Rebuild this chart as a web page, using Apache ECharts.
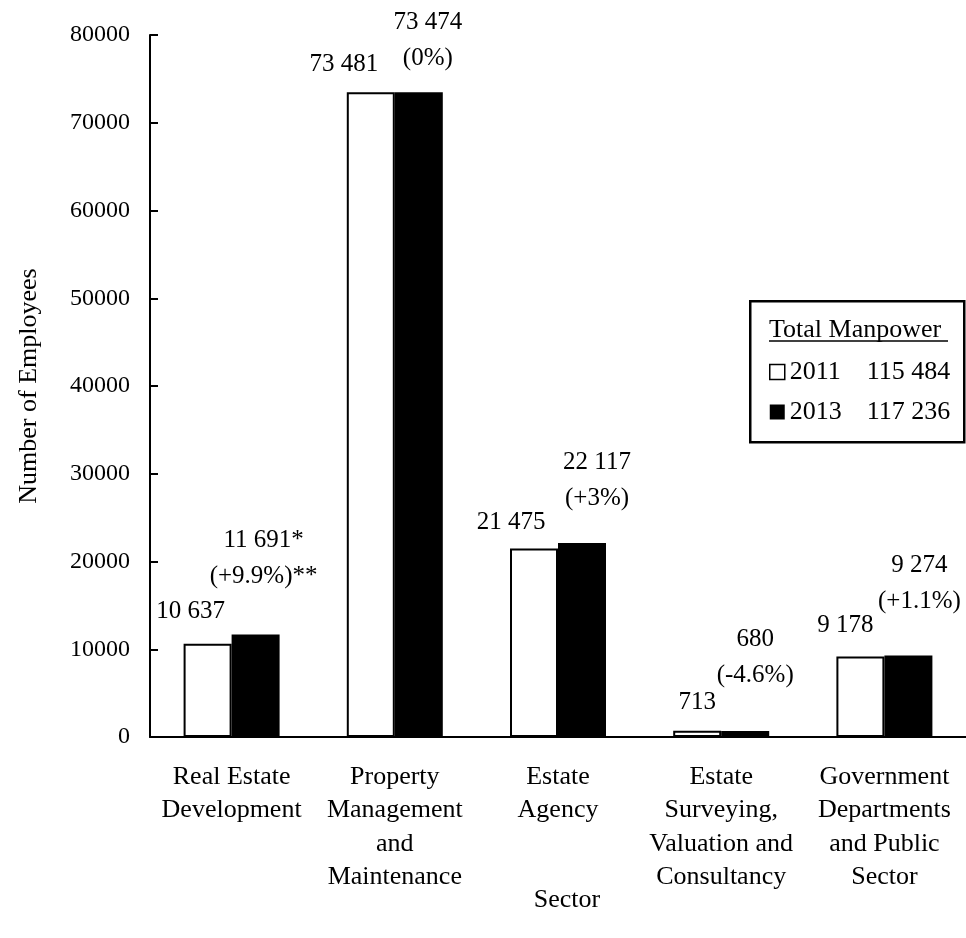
<!DOCTYPE html>
<html>
<head>
<meta charset="utf-8">
<title>Number of Employees by Sector</title>
<script src="https://cdn.jsdelivr.net/npm/echarts@6/dist/echarts.min.js"></script>
<style>
  html, body { margin: 0; padding: 0; background: #fff; }
  #chart { width: 966px; height: 938px; }
</style>
</head>
<body>
<div id="chart"></div>
<script>
// Sector categories (multi-line axis labels)
const sectors = [
  'Real Estate\nDevelopment',
  'Property\nManagement\nand\nMaintenance',
  'Estate\nAgency',
  'Estate\nSurveying,\nValuation and\nConsultancy',
  'Government\nDepartments\nand Public\nSector'
];

// Employees per sector
const employees2011 = [10637, 73481, 21475, 713, 9178];
const employees2013 = [11691, 73474, 22117, 680, 9274];

// Change 2011 -> 2013 and footnote marks
const changePct = ['+9.9%', '0%', '+3%', '-4.6%', '+1.1%'];
const valueNotes2013 = ['*', '', '', '', ''];
const changeNotes2013 = ['**', '', '', '', ''];

// Overall totals shown in the legend box
const years = ['2011', '2013'];
const totals = [115484, 117236];

// Y-axis tick range
const yMin = 0, yMax = 80000, yStep = 10000;

// Fine placement of value labels, [dx, dy] in px
const nudge2011 = [[-17, -17], [-27, -13], [-23, -11], [0, -13], [-15, -16]];
const nudge2013 = [[8, -40], [9, -16], [15, -26], [10, -38], [11, -36]];

const FONT = '"Liberation Serif", "Times New Roman", serif';

function fmt(n) {
  return String(n).replace(/\B(?=(\d{3})+(?!\d))/g, ' ');
}

const data2011 = employees2011.map((v, i) => ({
  value: v,
  label: { offset: nudge2011[i] }
}));
const data2013 = employees2013.map((v, i) => ({
  value: v,
  label: { offset: nudge2013[i] }
}));

const chart = echarts.init(document.getElementById('chart'), null, { renderer: 'canvas' });

chart.setOption({
  animation: false,
  backgroundColor: '#ffffff',
  textStyle: { fontFamily: FONT, color: '#000' },
  grid: { left: 150, top: 35, bottom: 201, width: 822, containLabel: false },
  xAxis: {
    type: 'category',
    data: sectors,
    name: 'Sector',
    nameLocation: 'middle',
    nameGap: 150,
    nameMoveOverlap: false,
    nameTextStyle: { fontFamily: FONT, fontSize: 26, color: '#000', padding: [0, 0, 0, 18] },
    axisLine: { lineStyle: { color: '#000', width: 2 } },
    axisTick: { inside: true, length: 8, lineStyle: { color: '#000', width: 2 } },
    axisLabel: {
      interval: 0,
      margin: 23,
      fontFamily: FONT,
      fontSize: 26,
      lineHeight: 33.5,
      color: '#000',
      align: 'center'
    },
    splitLine: { show: false }
  },
  yAxis: {
    type: 'value',
    min: yMin,
    max: yMax,
    interval: yStep,
    name: 'Number of Employees',
    nameLocation: 'middle',
    nameGap: 108,
    nameMoveOverlap: false,
    nameTextStyle: { fontFamily: FONT, fontSize: 26, color: '#000' },
    axisLine: { show: true, lineStyle: { color: '#000', width: 2 } },
    axisTick: { show: true, inside: true, length: 8, lineStyle: { color: '#000', width: 2 } },
    axisLabel: {
      fontFamily: FONT,
      fontSize: 24,
      color: '#000',
      margin: 20,
      formatter: v => String(v)
    },
    splitLine: { show: false }
  },
  legend: {
    orient: 'vertical',
    left: 769,
    top: 359,
    padding: 0,
    itemWidth: 15,
    itemHeight: 15,
    itemGap: 14,
    icon: 'rect',
    selectedMode: false,
    data: [
      { name: years[0], itemStyle: { color: '#fff', borderColor: '#000', borderWidth: 1.5 } },
      { name: years[1], itemStyle: { color: '#000', borderColor: '#000', borderWidth: 0 } }
    ],
    formatter: function (name) {
      const i = years.indexOf(name);
      return '{y|' + name + '}{t|' + fmt(totals[i]) + '}';
    },
    textStyle: {
      fontFamily: FONT,
      fontSize: 26,
      color: '#000',
      lineHeight: 26,
      rich: {
        y: { fontFamily: FONT, fontSize: 26, color: '#000', width: 77 },
        t: { fontFamily: FONT, fontSize: 26, color: '#000' }
      }
    }
  },
  graphic: [
    {
      type: 'rect',
      left: 749,
      top: 300,
      shape: { width: 214, height: 141 },
      style: { fill: 'rgba(255,255,255,0)', stroke: '#000', lineWidth: 2.5 },
      z: 10
    },
    {
      type: 'text',
      left: 769,
      top: 317,
      style: { text: 'Total Manpower', font: '26px ' + FONT, fill: '#000' },
      z: 10
    },
    {
      type: 'line',
      shape: { x1: 769, y1: 341, x2: 948, y2: 341 },
      style: { stroke: '#000', lineWidth: 1.5 },
      z: 10
    }
  ],
  series: [
    {
      name: years[0],
      type: 'bar',
      data: data2011,
      barWidth: 48,
      barGap: '0%',
      itemStyle: { color: '#ffffff', borderColor: '#000', borderWidth: 2 },
      label: {
        show: true,
        position: 'top',
        distance: 0,
        fontFamily: FONT,
        fontSize: 25,
        lineHeight: 30,
        color: '#000',
        formatter: p => fmt(p.value)
      }
    },
    {
      name: years[1],
      type: 'bar',
      data: data2013,
      barWidth: 48,
      barGap: '0%',
      itemStyle: { color: '#000000' },
      label: {
        show: true,
        position: 'top',
        distance: 0,
        fontFamily: FONT,
        fontSize: 25,
        lineHeight: 36,
        color: '#000',
        align: 'center',
        formatter: p => fmt(p.value) + valueNotes2013[p.dataIndex] + '\n(' +
          changePct[p.dataIndex] + ')' + changeNotes2013[p.dataIndex]
      }
    }
  ]
});
</script>
</body>
</html>
